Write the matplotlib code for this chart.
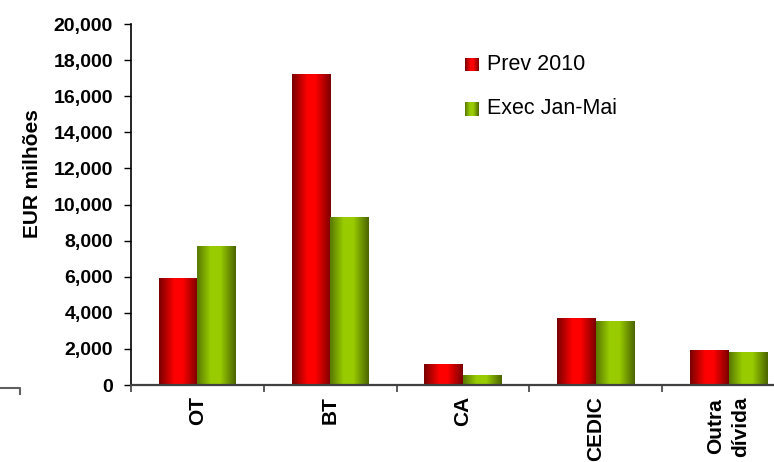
import numpy as np
import matplotlib
matplotlib.use('Agg')
import matplotlib.pyplot as plt
from matplotlib.colors import LinearSegmentedColormap
from matplotlib.lines import Line2D

# Debt financing by instrument (EUR millions)
categories = ['OT', 'BT', 'CA', 'CEDIC', 'Outra\ndívida']
prev_2010 = [5900, 17200, 1150, 3700, 1900]
exec_jan_mai = [7700, 9300, 500, 3500, 1800]
series_labels = ['Prev 2010', 'Exec Jan-Mai']
y_ticks = list(range(0, 20001, 2000))

plt.rcParams['font.family'] = ['Liberation Sans', 'DejaVu Sans']

W, H = 774, 462
fig = plt.figure(figsize=(W / 100, H / 100), dpi=100)
ax = fig.add_axes([131 / W, 77 / H, 664 / W, 361 / H])

# cylinder-like horizontal shading for the bars
red_cmap = LinearSegmentedColormap.from_list(
    'red_cyl', [(0, '#780000'), (0.4, '#ff0000'), (0.6, '#ff0000'), (1, '#7a0000')])
green_cmap = LinearSegmentedColormap.from_list(
    'green_cyl', [(0, '#587800'), (0.35, '#99cc00'), (0.6, '#99cc00'), (1, '#4a6400')])
grad = np.linspace(0, 1, 256).reshape(1, -1)

x = np.arange(len(categories))
bw = 0.29
bars_prev = ax.bar(x - bw, prev_2010, width=bw, align='edge', color='none', edgecolor='none')
bars_exec = ax.bar(x, exec_jan_mai, width=bw, align='edge', color='none', edgecolor='none')

for bars, cmap in ((bars_prev, red_cmap), (bars_exec, green_cmap)):
    for b in bars:
        x0, y0 = b.get_x(), b.get_y()
        ax.imshow(grad, cmap=cmap, aspect='auto', interpolation='bilinear',
                  extent=[x0, x0 + b.get_width(), y0, y0 + b.get_height()], zorder=2)

ax.set_xlim(-0.5, 4.5)
ax.set_ylim(0, 20000)

ax.set_yticks(y_ticks, labels=[f'{v:,}' for v in y_ticks], fontsize=14, fontweight='bold')
ax.tick_params(axis='y', direction='out', length=5, width=1, pad=8, colors='black')

ax.set_xticks(x, labels=categories, rotation=90, fontsize=15, fontweight='bold',
              multialignment='center', linespacing=1.4)
ax.set_xticks(np.arange(-0.5, len(categories), 1), minor=True)
ax.tick_params(axis='x', which='major', length=0, pad=8)
ax.tick_params(axis='x', which='minor', direction='out', length=5, width=1.2, color='#404040')

for side in ('top', 'right'):
    ax.spines[side].set_visible(False)
ax.spines['left'].set_color('black')
ax.spines['left'].set_linewidth(1.2)
ax.spines['bottom'].set_color('#404040')
ax.spines['bottom'].set_linewidth(1.6)

fig.text(32 / W, 1 - 174 / H, 'EUR milhões', rotation=90, ha='center', va='center',
         fontsize=15, fontweight='bold')

# legend with shaded swatches
for label, cmap, yc in zip(series_labels, (red_cmap, green_cmap), (64.5, 109)):
    sw = fig.add_axes([465 / W, 1 - (yc + 7) / H, 14 / W, 14 / H])
    sw.imshow(grad, cmap=cmap, aspect='auto', interpolation='bilinear')
    sw.set_axis_off()
    fig.text(487 / W, 1 - yc / H, label, fontsize=15.5, ha='left', va='center')

# frame corner at the lower left
fig.add_artist(Line2D([0, 19.5 / W, 19.5 / W], [1 - 388 / H, 1 - 388 / H, 1 - 394 / H],
                      color='#606060', linewidth=1.5))

fig.savefig('out.png', dpi=100)
